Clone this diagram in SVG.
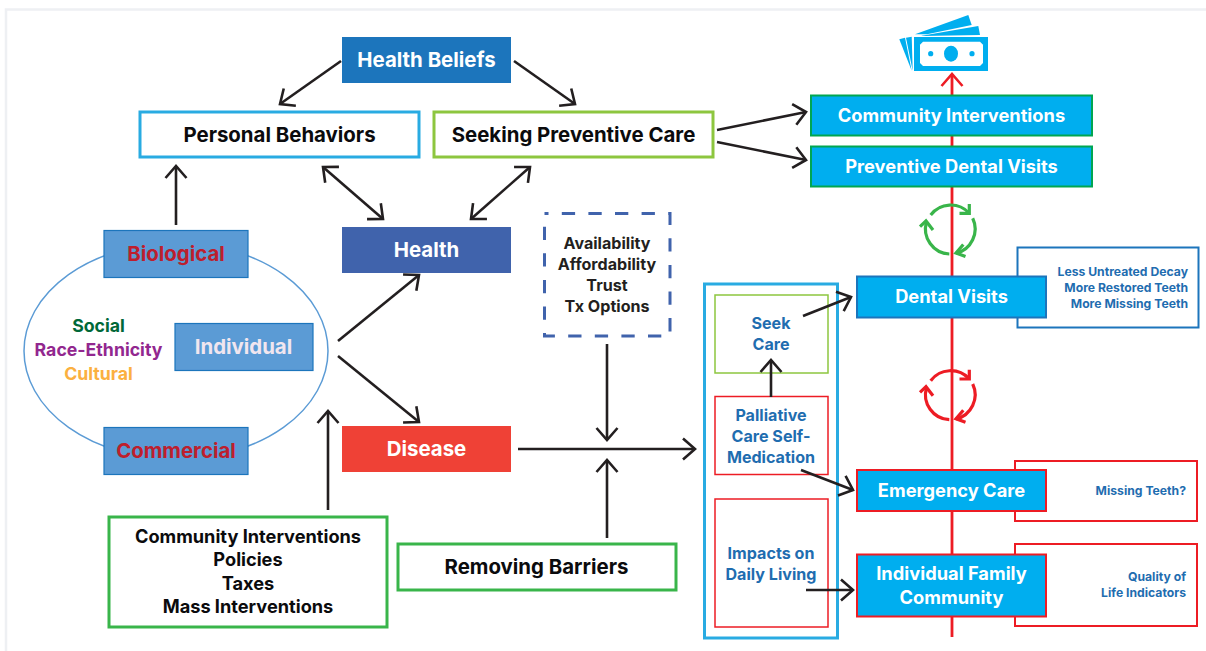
<svg xmlns="http://www.w3.org/2000/svg" width="1206" height="651" viewBox="0 0 1206 651">
<style>
text{font-family:"Inter","Liberation Sans",sans-serif;font-weight:700;text-anchor:middle}
.w{fill:#fff}.k{fill:#0b0b0d}.d{fill:#231f20}.b{fill:#1f6db0}
.t20{font-size:20.4px}.t19{font-size:18.3px}.t18{font-size:18.2px}.tf{font-size:17.7px}.t17{font-size:16.1px}.t12{font-size:12.2px;text-anchor:end}
.c{fill:none;stroke:#231f20;stroke-width:2.6}
.box{fill:#fff}
.cy{fill:#00aeef}
</style>
<defs>
<marker id="a" markerUnits="userSpaceOnUse" markerWidth="30" markerHeight="30" refX="15" refY="15" orient="auto-start-reverse" viewBox="0 0 30 30"><path d="M3,4.500 L15,15 L3,25.500" fill="none" stroke="#231f20" stroke-width="2.6"/></marker>
<marker id="r" markerUnits="userSpaceOnUse" markerWidth="30" markerHeight="30" refX="15" refY="15" orient="auto" viewBox="0 0 30 30"><path d="M3,4.500 L15,15 L3,25.500" fill="none" stroke="#ed1c24" stroke-width="2.6"/></marker>
<g id="cycle" fill="none" stroke-width="3.200">
<path d="M930.700,215 A25,25 0 0 1 969,213"/><path d="M959.500,213.300 L969.300,213.300 L969.300,204"/>
<path d="M972.700,218.300 A25,25 0 0 1 956,253.300"/><path d="M963.300,244.500 L956,253 L965.500,256.500"/>
<path d="M949.300,254 A25,25 0 0 1 926.500,222"/><path d="M920,226.700 L926,221 L933,230"/>
</g>
</defs>
<rect width="1206" height="651" fill="#fff"/>
<path d="M6,651 V9.500 H1206" fill="none" stroke="#eef0f3" stroke-width="2.500"/>
<g id="spine"><path d="M952,637 V74" fill="none" stroke="#ed1c24" stroke-width="2.800" marker-end="url(#r)"/></g>
<g id="money" fill="#00aeef">
<path d="M915,34.300 L968.300,15 L971.700,25 L927,34.300Z"/>
<path d="M921.700,35.700 L978.300,26 L980,35 L921.700,36Z"/>
<path d="M899.300,39.300 L905,37.700 L911.700,70.700Z"/>
<path d="M906,37.700 L911.700,36.700 L912.700,70.700Z"/>
<rect x="914" y="37" width="74" height="34"/>
<path d="M923,41.700 H980 L983,44.700 V63 L980,66 H923 L920,63 V44.700Z" fill="#fff"/>
<ellipse cx="951" cy="53.700" rx="7" ry="8"/><circle cx="930.700" cy="53.700" r="2.600"/><circle cx="972" cy="53.700" r="2.600"/>
</g>
<g id="ellipse"><ellipse cx="176" cy="351" rx="152" ry="108" fill="none" stroke="#5b9bd5" stroke-width="1.500"/></g>
<g id="health-beliefs"><rect x="342" y="37" width="169" height="46" fill="#1c75bc"/><text class="w t20" x="426.500" y="67">Health Beliefs</text></g>
<g id="personal-behaviors"><rect class="box" x="140" y="112" width="279" height="45" stroke="#29abe2" stroke-width="3"/><text class="k t20" x="279.500" y="142">Personal Behaviors</text></g>
<g id="seeking-preventive-care"><rect class="box" x="434" y="112" width="279" height="45" stroke="#8dc63f" stroke-width="3"/><text class="k t20" x="573.500" y="142">Seeking Preventive Care</text></g>
<g id="health"><rect x="342" y="227" width="169" height="46" fill="#4063ac"/><text class="w t20" x="426.500" y="257">Health</text></g>
<g id="disease"><rect x="342" y="426" width="169" height="46" fill="#ef4136"/><text class="w t20" x="426.500" y="456">Disease</text></g>
<g id="biological"><rect x="104" y="230.500" width="144" height="47" fill="#5b9bd5" stroke="#1c75bc" stroke-width="1.200"/><text class="t20" fill="#be1e2d" x="176" y="261">Biological</text></g>
<g id="individual"><rect x="175" y="323.500" width="138" height="47" fill="#5b9bd5" stroke="#1c75bc" stroke-width="1.200"/><text class="t20" fill="#f1e6ef" x="243.500" y="354">Individual</text></g>
<g id="commercial"><rect x="104" y="427.500" width="144" height="47" fill="#5b9bd5" stroke="#1c75bc" stroke-width="1.200"/><text class="t20" fill="#be1e2d" x="176" y="458">Commercial</text></g>
<g id="factors">
<text class="tf" fill="#006838" x="98.500" y="332">Social</text>
<text class="tf" fill="#92278f" x="98.500" y="356">Race-Ethnicity</text>
<text class="tf" fill="#fbb040" x="98.500" y="380">Cultural</text>
</g>
<g id="community-policies"><rect class="box" x="109" y="517" width="278" height="110" stroke="#39b54a" stroke-width="3"/>
<text class="k t18" x="248" y="543">Community Interventions</text><text class="k t18" x="248" y="566">Policies</text><text class="k t18" x="248" y="590">Taxes</text><text class="k t18" x="248" y="613">Mass Interventions</text></g>
<g id="removing-barriers"><rect class="box" x="398" y="544" width="278" height="46" stroke="#39b54a" stroke-width="3"/><text class="k t20" x="536.500" y="574">Removing Barriers</text></g>
<g id="access"><rect class="box" x="544.500" y="213.500" width="125.500" height="122.500" stroke="#4063ac" stroke-width="3" stroke-dasharray="13.300 13.300" stroke-dashoffset="9.300"/>
<text class="d t17" x="607" y="249">Availability</text><text class="d t17" x="607" y="270">Affordability</text><text class="d t17" x="607" y="291">Trust</text><text class="d t17" x="607" y="312">Tx Options</text></g>
<g id="care-panel"><rect class="box" x="704.500" y="284" width="133" height="354" stroke="#29abe2" stroke-width="3"/></g>
<g id="seek-care"><rect class="box" x="715" y="295" width="113" height="78" stroke="#8dc63f" stroke-width="1.500"/><text class="b t17" x="771" y="329">Seek</text><text class="b t17" x="771" y="350">Care</text></g>
<g id="palliative"><rect class="box" x="715" y="396.500" width="113" height="78" stroke="#ed1c24" stroke-width="1.500"/><text class="b t17" x="771" y="421">Palliative</text><text class="b t17" x="771" y="442">Care Self-</text><text class="b t17" x="771" y="463">Medication</text></g>
<g id="impacts"><rect class="box" x="715" y="499" width="113" height="128" stroke="#ed1c24" stroke-width="1.500"/><text class="b t17" x="771" y="559">Impacts on</text><text class="b t17" x="771" y="580">Daily Living</text></g>
<g id="community-interventions"><rect class="cy" x="811" y="95.500" width="281" height="40" stroke="#00a651" stroke-width="2"/><text class="w t19" x="951.500" y="122">Community Interventions</text></g>
<g id="preventive-dental-visits"><rect class="cy" x="811" y="146.500" width="281" height="40" stroke="#00a651" stroke-width="2"/><text class="w t19" x="951.500" y="173">Preventive Dental Visits</text></g>
<g id="dental-note"><rect class="box" x="1017.500" y="247.500" width="181" height="80" stroke="#1c75bc" stroke-width="2"/><text class="b t12" x="1188" y="276">Less Untreated Decay</text><text class="b t12" x="1188" y="292">More Restored Teeth</text><text class="b t12" x="1188" y="308">More Missing Teeth</text></g>
<g id="dental-visits"><rect class="cy" x="857" y="276.500" width="189" height="41" stroke="#1c75bc" stroke-width="2"/><text class="w t19" x="951.500" y="303">Dental Visits</text></g>
<g id="emergency-note"><rect class="box" x="1015" y="461" width="182" height="60" stroke="#ed1c24" stroke-width="2"/><text class="b t12" x="1186" y="495">Missing Teeth?</text></g>
<g id="emergency-care"><rect class="cy" x="857" y="470" width="189" height="41" stroke="#ed1c24" stroke-width="2"/><text class="w t19" x="951.500" y="497">Emergency Care</text></g>
<g id="quality-note"><rect class="box" x="1015" y="544" width="182" height="82" stroke="#ed1c24" stroke-width="2"/><text class="b t12" x="1186" y="581">Quality of</text><text class="b t12" x="1186" y="597">Life Indicators</text></g>
<g id="individual-family-community"><rect class="cy" x="857" y="554.500" width="189" height="62" stroke="#ed1c24" stroke-width="2"/><text class="w t19" x="951.500" y="580">Individual Family</text><text class="w t19" x="951.500" y="604">Community</text></g>
<g id="connectors">
<path class="c" d="M341,61 L280,104" marker-end="url(#a)"/>
<path class="c" d="M514,61 L575,104" marker-end="url(#a)"/>
<path class="c" d="M176,225 V166" marker-end="url(#a)"/>
<path class="c" d="M323,167 L383,219" marker-start="url(#a)" marker-end="url(#a)"/>
<path class="c" d="M530,167 L471,219" marker-start="url(#a)" marker-end="url(#a)"/>
<path class="c" d="M338,341 L419,275" marker-end="url(#a)"/>
<path class="c" d="M338,356 L419,422" marker-end="url(#a)"/>
<path class="c" d="M328,510 V411" marker-end="url(#a)"/>
<path class="c" d="M518,449 H695" marker-end="url(#a)"/>
<path class="c" d="M607,344 V440" marker-end="url(#a)"/>
<path class="c" d="M607,538 V460" marker-end="url(#a)"/>
<path class="c" d="M717,130 L806,112" marker-end="url(#a)"/>
<path class="c" d="M717,142 L806,160" marker-end="url(#a)"/>
<path class="c" d="M803,316 L851,297" marker-end="url(#a)"/>
<path class="c" d="M771,397 V360" marker-end="url(#a)"/>
<path class="c" d="M801,470 L853,490" marker-end="url(#a)"/>
<path class="c" d="M806,590 H853" marker-end="url(#a)"/>
</g>
<use id="cycle-green" href="#cycle" stroke="#39b54a"/>
<use id="cycle-red" href="#cycle" stroke="#ed1c24" y="165.700"/>
</svg>
